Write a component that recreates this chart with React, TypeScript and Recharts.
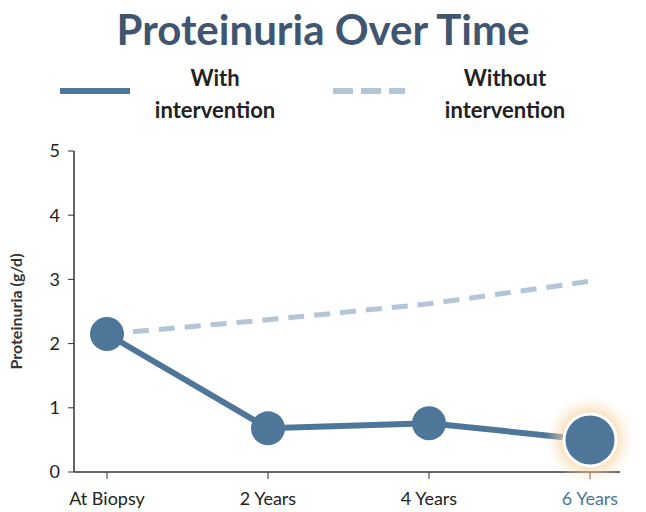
import { LineChart, Line, XAxis, YAxis } from 'recharts';

const categories = ['At Biopsy', '2 Years', '4 Years', '6 Years'];
const withIntervention = [2.15, 0.68, 0.76, 0.5];
const withoutIntervention = [2.15, 2.37, 2.62, 2.97];
const yTicks = [0, 1, 2, 3, 4, 5];

const data = categories.map((name, i) => ({
  name,
  with: withIntervention[i],
  without: withoutIntervention[i],
}));

const BLUE = '#4e7699';
const LIGHT = '#b3c5d6';
const FONT = 'Lato, "Open Sans", sans-serif';

const Dot = (props: any) => {
  const { cx, cy, index } = props;
  if (index === categories.length - 1) {
    return (
      <g key={`d-${index}`}>
        <circle cx={cx} cy={cy} r={44} fill="url(#glow)" />
        <circle cx={cx} cy={cy} r={26} fill={BLUE} stroke="#fff" strokeWidth={3} />
      </g>
    );
  }
  return <circle key={`d-${index}`} cx={cx} cy={cy} r={17} fill={BLUE} />;
};

const Tick = (props: any) => {
  const { x, y, payload, index } = props;
  return (
    <text x={x} y={y + 24} textAnchor="middle" fontSize={18} fontFamily={FONT}
      fill={index === categories.length - 1 ? BLUE : '#222'}>
      {payload.value}
    </text>
  );
};

export default function App() {
  return (
    <div style={{ position: 'absolute', left: 0, top: 0, width: 646, height: 512, background: '#fff', fontFamily: FONT }}>
      <div style={{ position: 'absolute', top: 4, width: 646, textAlign: 'center', fontSize: 42, fontWeight: 700, color: '#3f5570' }}>
        Proteinuria Over Time
      </div>
      <div style={{ position: 'absolute', left: 60, top: 88, width: 70, height: 6, background: BLUE }} />
      <div style={{ position: 'absolute', left: 140, top: 62, width: 150, textAlign: 'center', fontSize: 22, fontWeight: 700, color: '#222', lineHeight: '32px' }}>
        With<br />intervention
      </div>
      <div style={{ position: 'absolute', left: 333, top: 88, width: 72, height: 6, background: `repeating-linear-gradient(90deg, ${LIGHT} 0 20px, transparent 20px 28px)` }} />
      <div style={{ position: 'absolute', left: 430, top: 62, width: 150, textAlign: 'center', fontSize: 22, fontWeight: 700, color: '#222', lineHeight: '32px' }}>
        Without<br />intervention
      </div>
      <div style={{ position: 'absolute', left: 0, top: 130 }}>
        <LineChart width={646} height={382} data={data} margin={{ top: 21, right: 26, bottom: 10, left: 0 }}>
          <defs>
            <radialGradient id="glow">
              <stop offset="50%" stopColor="#f5c88a" stopOpacity={0.8} />
              <stop offset="100%" stopColor="#fbe6c8" stopOpacity={0} />
            </radialGradient>
          </defs>
          <XAxis dataKey="name" tick={<Tick />} tickLine={{ stroke: '#333' }} axisLine={{ stroke: '#333', strokeWidth: 1.5 }}
            padding={{ left: 33, right: 30 }} tickSize={7} interval={0} />
          <YAxis domain={[0, 5]} ticks={yTicks} width={74} tick={{ fontSize: 18, fill: '#222', fontFamily: FONT }}
            tickLine={{ stroke: '#333' }} axisLine={{ stroke: '#333', strokeWidth: 1.5 }} tickSize={6} tickMargin={8}
            label={{ value: 'Proteinuria (g/d)', angle: -90, position: 'insideLeft', offset: 16, fontSize: 16, fontWeight: 700, fill: '#333', style: { textAnchor: 'middle' } }} />
          <Line dataKey="without" stroke={LIGHT} strokeWidth={5} strokeDasharray="16 10" dot={false} isAnimationActive={false} />
          <Line dataKey="with" stroke={BLUE} strokeWidth={6} dot={<Dot />} activeDot={false} isAnimationActive={false} />
        </LineChart>
      </div>
    </div>
  );
}
